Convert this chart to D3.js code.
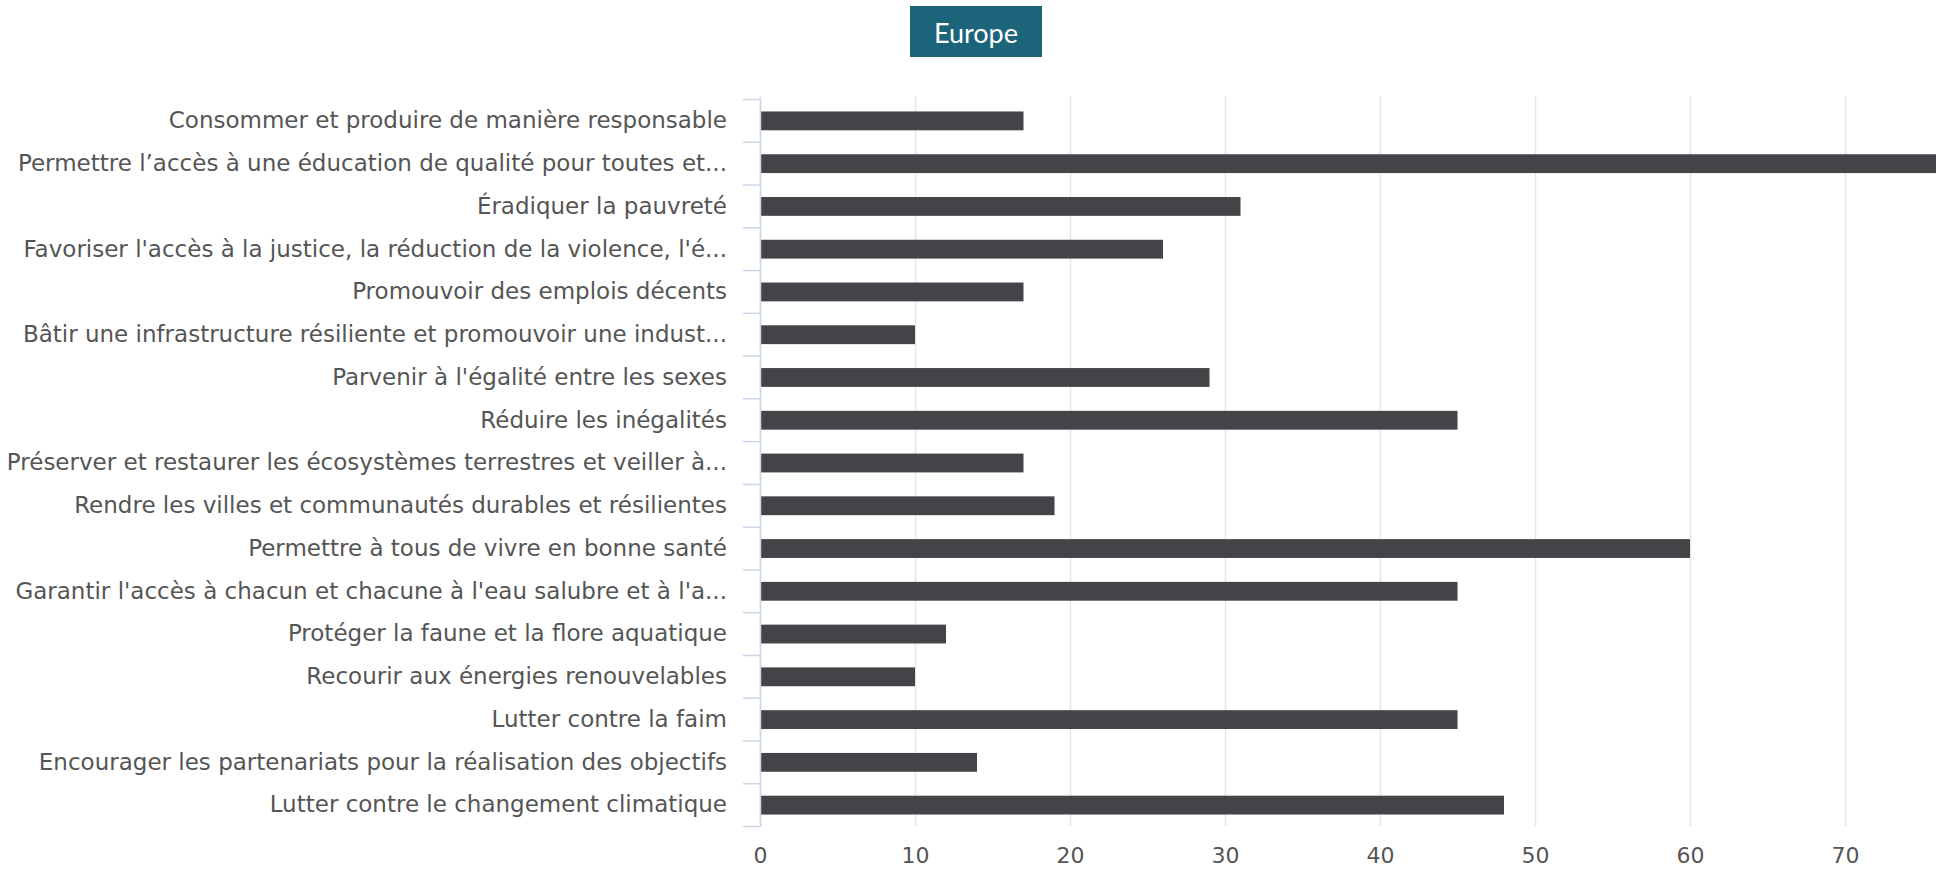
<!DOCTYPE html>
<html>
<head>
<meta charset="utf-8">
<script src="https://cdn.jsdelivr.net/npm/d3@7"></script>
<style>
  html, body { margin: 0; padding: 0; background: #ffffff; }
  svg { display: block; }
</style>
</head>
<body>
<svg id="chart" width="1936" height="875"></svg>
<script>
const title = "Europe";
const categories = [
  "Consommer et produire de manière responsable",
  "Permettre l’accès à une éducation de qualité pour toutes et...",
  "Éradiquer la pauvreté",
  "Favoriser l'accès à la justice, la réduction de la violence, l'é...",
  "Promouvoir des emplois décents",
  "Bâtir une infrastructure résiliente et promouvoir une indust...",
  "Parvenir à l'égalité entre les sexes",
  "Réduire les inégalités",
  "Préserver et restaurer les écosystèmes terrestres et veiller à...",
  "Rendre les villes et communautés durables et résilientes",
  "Permettre à tous de vivre en bonne santé",
  "Garantir l'accès à chacun et chacune à l'eau salubre et à l'a...",
  "Protéger la faune et la flore aquatique",
  "Recourir aux énergies renouvelables",
  "Lutter contre la faim",
  "Encourager les partenariats pour la réalisation des objectifs",
  "Lutter contre le changement climatique"
];
const values = [17, 77, 31, 26, 17, 10, 29, 45, 17, 19, 60, 45, 12, 10, 45, 14, 48];
const xTicks = [0, 10, 20, 30, 40, 50, 60, 70];

const svg = d3.select("#chart");

// Title box
const tg = svg.append("g");
tg.append("rect").attr("x", 910).attr("y", 6).attr("width", 132).attr("height", 51).attr("fill", "#1c647a");
tg.append("text").attr("x", 976).attr("y", 43).attr("text-anchor", "middle")
  .attr("font-family", "Lato, 'Open Sans', sans-serif").attr("font-size", 27)
  .attr("fill", "#ffffff").text(title);

const x = d3.scaleLinear().domain([0, 80]).range([760, 760 + 80 * 15.5]);
const y = d3.scaleBand().domain(categories).range([99.5, 826.5]).paddingInner(0.56).paddingOuter(0.28);

// Gridlines
svg.append("g").selectAll("line").data(xTicks).join("line")
  .attr("x1", d => x(d) + 0.5).attr("x2", d => x(d) + 0.5)
  .attr("y1", 96).attr("y2", 826)
  .attr("stroke", "#e6e6e6").attr("stroke-width", 1.5);

// Bars
svg.append("g").selectAll("rect").data(values).join("rect")
  .attr("x", x(0))
  .attr("y", (d, i) => y(categories[i]))
  .attr("width", d => x(d) - x(0))
  .attr("height", y.bandwidth())
  .attr("fill", "#434348");

// Y axis
const yAxisBand = d3.scaleBand().domain(categories).range([99.5, 826.5]);
const yAxis = svg.append("g").attr("transform", `translate(${x(0)},0)`)
  .call(d3.axisLeft(yAxisBand).tickSize(0).tickPadding(33));
yAxis.select(".domain").attr("stroke", "#ccd6eb").attr("stroke-width", 1.5);
yAxis.selectAll("text").attr("font-family", "'DejaVu Sans', sans-serif").attr("font-size", 23).attr("fill", "#555555");
// category boundary ticks
const bounds = categories.map(c => yAxisBand(c)).concat([yAxisBand.range()[1]]);
svg.append("g").selectAll("line").data(bounds).join("line")
  .attr("x1", x(0) - 17).attr("x2", x(0))
  .attr("y1", d => d).attr("y2", d => d)
  .attr("stroke", "#ccd6eb").attr("stroke-width", 1.5);

// X axis
const xAxis = svg.append("g").attr("transform", `translate(0,826)`)
  .call(d3.axisBottom(x).tickValues(xTicks).tickSize(0).tickPadding(21).tickFormat(d3.format("d")));
xAxis.select(".domain").remove();
xAxis.selectAll("text").attr("font-family", "'DejaVu Sans', sans-serif").attr("font-size", 22).attr("fill", "#555555");
</script>
</body>
</html>
